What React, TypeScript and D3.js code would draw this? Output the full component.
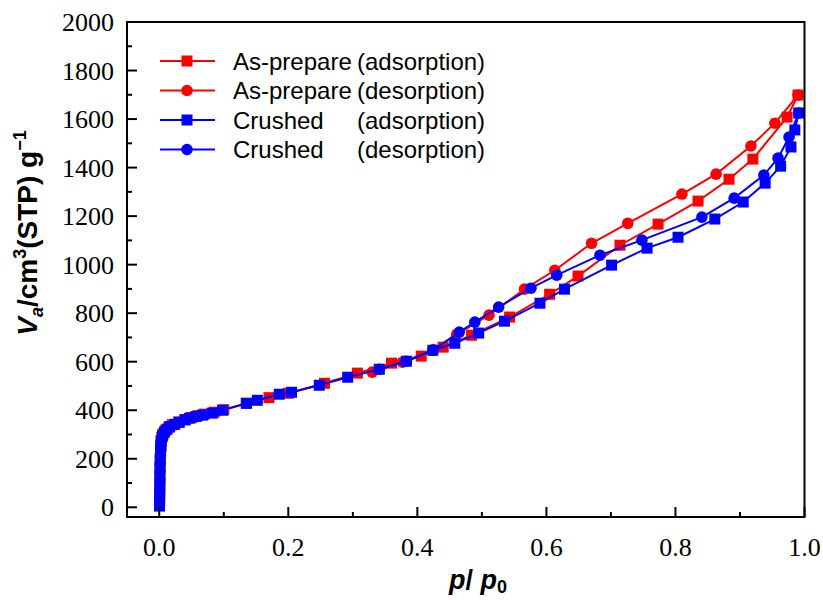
import React from "react";
import * as d3 from "d3";

type Pt = [number, number];

const redAds: Pt[] = [
  [0.0005, 10], [0.0007, 40], [0.0009, 80], [0.001, 120], [0.0012, 160], [0.0015, 195],
  [0.002, 225], [0.0025, 250], [0.003, 270], [0.004, 288], [0.006, 302], [0.01, 318],
  [0.015, 330], [0.02, 340], [0.03, 352], [0.04, 362], [0.05, 370], [0.06, 378],
  [0.07, 384], [0.085, 392], [0.1, 402], [0.135, 428], [0.17, 452], [0.2, 470],
  [0.256, 511], [0.307, 553], [0.36, 594], [0.406, 623], [0.44, 660], [0.484, 709],
  [0.543, 784], [0.605, 878], [0.649, 953], [0.714, 1080], [0.773, 1167], [0.835, 1262],
  [0.883, 1352], [0.92, 1435], [0.973, 1608], [0.99, 1699],
];

const redDes: Pt[] = [
  [0.99, 1699], [0.954, 1583], [0.917, 1489], [0.863, 1373], [0.81, 1291], [0.726, 1170],
  [0.67, 1088], [0.613, 977], [0.566, 899], [0.511, 792], [0.461, 713], [0.425, 650],
  [0.377, 598], [0.33, 557],
];

const blueAds: Pt[] = [
  [0.0003, 5], [0.0005, 30], [0.0007, 60], [0.0009, 95], [0.001, 130], [0.0012, 165],
  [0.0015, 200], [0.002, 230], [0.0025, 255], [0.003, 275], [0.005, 295], [0.008, 310],
  [0.012, 322], [0.016, 332], [0.024, 342], [0.031, 350], [0.04, 360], [0.047, 367],
  [0.057, 374], [0.067, 380], [0.082, 388], [0.098, 400], [0.135, 429], [0.152, 441],
  [0.186, 466], [0.205, 474], [0.248, 503], [0.292, 536], [0.341, 569], [0.383, 602],
  [0.424, 647], [0.458, 676], [0.495, 718], [0.535, 767], [0.59, 841], [0.628, 899],
  [0.701, 998], [0.756, 1068], [0.804, 1113], [0.861, 1188], [0.905, 1258], [0.939, 1336],
  [0.963, 1406], [0.979, 1485], [0.985, 1555], [0.991, 1625],
];

const blueDes: Pt[] = [
  [0.991, 1625], [0.976, 1526], [0.959, 1439], [0.937, 1369], [0.891, 1274], [0.841, 1196],
  [0.748, 1101], [0.683, 1039], [0.616, 957], [0.576, 903], [0.526, 825], [0.489, 763],
  [0.465, 722], [0.424, 647], [0.383, 602], [0.341, 569],
];

const legendLabels = ["As-prepare", "As-prepare", "Crushed", "Crushed"];
const legendModes = ["(adsorption)", "(desorption)", "(adsorption)", "(desorption)"];
const xTicks = [0, 0.2, 0.4, 0.6, 0.8, 1.0];
const xMinor = [0.1, 0.3, 0.5, 0.7, 0.9];
const yTicks = [0, 200, 400, 600, 800, 1000, 1200, 1400, 1600, 1800, 2000];
const yMinor = [100, 300, 500, 700, 900, 1100, 1300, 1500, 1700, 1900];

const RED = "#ff0000";
const BLUE = "#0000ff";
const SERIF = "Liberation Serif, Times New Roman, serif";
const SANS = "Liberation Sans, Arial, sans-serif";

const L = 127, R = 804.5, T = 22, B = 517;

export default function App() {
  const x = d3.scaleLinear().domain([-0.05, 1.0]).range([L, R]);
  const y = d3.scaleLinear().domain([-40, 2000]).range([B, T]);
  const line = d3.line<Pt>().x((d) => x(d[0])).y((d) => y(d[1]));

  const series = [
    { data: redAds, color: RED, shape: "square" },
    { data: redDes, color: RED, shape: "circle" },
    { data: blueAds, color: BLUE, shape: "square" },
    { data: blueDes, color: BLUE, shape: "circle" },
  ];

  const marker = (shape: string, cx: number, cy: number, color: string, key: any) =>
    shape === "square" ? (
      <rect key={key} x={cx - 5.5} y={cy - 5.5} width={11} height={11} fill={color} />
    ) : (
      <circle key={key} cx={cx} cy={cy} r={5.8} fill={color} />
    );

  return (
    <svg width={823} height={600} style={{ position: "absolute", left: 0, top: 0, background: "#fff" }}>
      <rect x={0} y={0} width={823} height={600} fill="#fff" />
      {series.map((s, i) => (
        <g key={i}>
          <path d={line(s.data) || ""} fill="none" stroke={s.color} strokeWidth={2} />
          {s.data.map((d, j) => marker(s.shape, x(d[0]), y(d[1]), s.color, j))}
        </g>
      ))}
      {/* frame */}
      <rect x={L} y={T} width={R - L} height={B - T} fill="none" stroke="#000" strokeWidth={2} />
      {xTicks.map((t) => (
        <g key={"xt" + t}>
          <line x1={x(t)} x2={x(t)} y1={B} y2={B - 10} stroke="#000" strokeWidth={2} />
          <text x={x(t)} y={556} textAnchor="middle" fontFamily={SERIF} fontSize={26}>
            {t.toFixed(1)}
          </text>
        </g>
      ))}
      {xMinor.map((t) => (
        <line key={"xm" + t} x1={x(t)} x2={x(t)} y1={B} y2={B - 5} stroke="#000" strokeWidth={2} />
      ))}
      {yTicks.map((t) => (
        <g key={"yt" + t}>
          <line x1={L} x2={L + 10} y1={y(t)} y2={y(t)} stroke="#000" strokeWidth={2} />
          <text x={114} y={y(t) + 9} textAnchor="end" fontFamily={SERIF} fontSize={26}>
            {t}
          </text>
        </g>
      ))}
      {yMinor.map((t) => (
        <line key={"ym" + t} x1={L} x2={L + 5} y1={y(t)} y2={y(t)} stroke="#000" strokeWidth={2} />
      ))}
      {/* legend */}
      {series.map((s, i) => {
        const ry = 61 + i * 29.5;
        return (
          <g key={"lg" + i}>
            <line x1={160} x2={215} y1={ry} y2={ry} stroke={s.color} strokeWidth={2} />
            {marker(s.shape, 187, ry, s.color, "m")}
            <text x={233} y={ry + 8.5} fontFamily={SANS} fontSize={24}>
              {legendLabels[i]}
            </text>
            <text x={357} y={ry + 8.5} fontFamily={SANS} fontSize={24}>
              {legendModes[i]}
            </text>
          </g>
        );
      })}
      {/* y label */}
      <text
        transform="translate(37,233) rotate(-90)"
        textAnchor="middle"
        fontFamily={SANS}
        fontWeight="bold"
        fontSize={28}
      >
        <tspan fontStyle="italic">V</tspan>
        <tspan fontStyle="italic" fontSize={18} dy={6}>a</tspan>
        <tspan dy={-6}>/cm</tspan>
        <tspan fontSize={18} dy={-11}>3</tspan>
        <tspan dy={11}>(STP) g</tspan>
        <tspan fontSize={18} dy={-11}>−1</tspan>
      </text>
      {/* x label */}
      <text x={478} y={589} textAnchor="middle" fontFamily={SANS} fontWeight="bold" fontSize={27}>
        <tspan fontStyle="italic">p</tspan>
        <tspan>/ </tspan>
        <tspan fontStyle="italic">p</tspan>
        <tspan fontSize={18} dy={4}>0</tspan>
      </text>
    </svg>
  );
}
